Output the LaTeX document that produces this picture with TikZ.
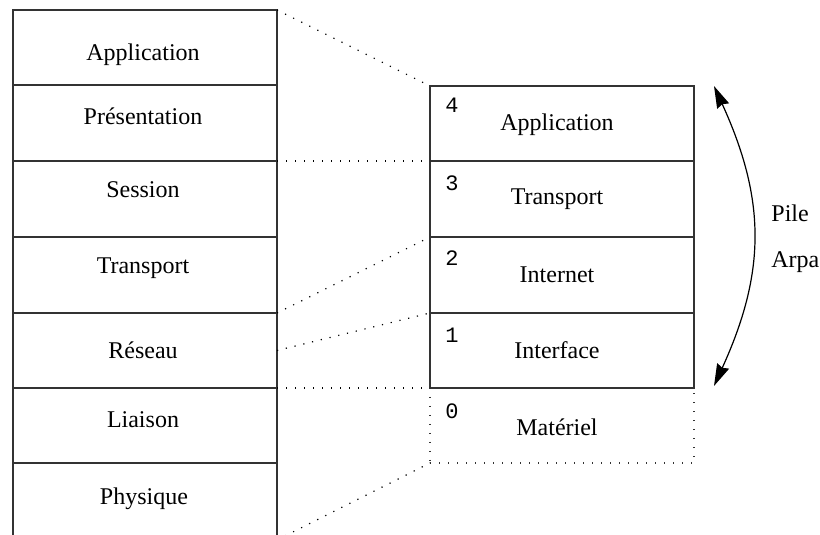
\documentclass[tikz,border=0pt]{standalone}
\usepackage{fontspec}
\setmainfont{Liberation Serif}
\newfontfamily\monof{Liberation Mono}
\usetikzlibrary{arrows.meta}
\begin{document}
\begin{tikzpicture}[x=0.5pt,y=-0.5pt,
  box/.style={draw=black!80, line width=0.7pt, minimum width=132pt, inner sep=0pt, outer sep=0pt, anchor=north west},
  dbox/.style={box, draw=black!80, dash pattern=on 0.6pt off 3.9pt},
  dotline/.style={draw=black, line width=0.6pt, dash pattern=on 0.6pt off 3.9pt},
  txt/.style={font=\fontsize{12}{14}\selectfont, inner sep=0pt},
  num/.style={font=\monof\fontsize{11}{13}\selectfont, inner sep=0pt},
  arr/.style={line width=0.6pt, {Stealth[length=11pt,width=6.5pt,inset=1pt]}-{Stealth[length=11pt,width=6.5pt,inset=1pt]}}
]
\useasboundingbox (0,0) rectangle (820,535);
% left stack (OSI)
\node[box, minimum height=37.5pt] (L1) at (13,10) {};
\node[box, minimum height=38pt] (L2) at (13,85) {};
\node[box, minimum height=38pt] (L3) at (13,161) {};
\node[box, minimum height=38pt] (L4) at (13,237) {};
\node[box, minimum height=37.5pt] (L5) at (13,313) {};
\node[box, minimum height=37.5pt] (L6) at (13,388) {};
\node[inner sep=0pt, outer sep=0pt, minimum width=132pt, minimum height=36pt, anchor=north west] (L7) at (13,463) {};
\draw[black!80, line width=0.7pt] (L7.south west) -- (L7.north west) -- (L7.north east) -- (L7.south east);
\node[txt] (tL1) at (143,55) {Application};
\node[txt] (tL2) at (143,116) {Présentation};
\node[txt] (tL3) at (143,190) {Session};
\node[txt] (tL4) at (143,268) {Transport};
\node[txt] (tL5) at (143,350) {Réseau};
\node[txt] (tL6) at (143,420) {Liaison};
\node[txt] (tL7) at (144,499) {Physique};
% right stack (Arpa)
\node[box, minimum height=37.5pt] (R4) at (430,86) {};
\node[box, minimum height=38pt] (R3) at (430,161) {};
\node[box, minimum height=38pt] (R2) at (430,237) {};
\node[box, minimum height=37.5pt] (R1) at (430,313) {};
\node[dbox, minimum height=37.5pt] (R0) at (430,388) {};
\draw[black!80, line width=0.7pt] (R1.south west) -- (R1.south east);
\node[num] (n4) at (452,105) {4};
\node[num] (n3) at (452,183) {3};
\node[num] (n2) at (452,258) {2};
\node[num] (n1) at (452,335) {1};
\node[num] (n0) at (452,411) {0};
\node[txt] (tR4) at (557,125) {Application};
\node[txt] (tR3) at (557,199) {Transport};
\node[txt] (tR2) at (557,275) {Internet};
\node[txt] (tR1) at (557,350) {Interface};
\node[txt] (tR0) at (557,427) {Matériel};
% dotted correspondences
\coordinate (Lbot) at (277,540);
\draw[dotline] (L1.north east) -- (R4.north west);
\draw[dotline] (L3.north east) -- (R3.north west);
\draw[dotline] (L5.north east) -- (R2.north west);
\draw[dotline] (L5.east) -- (R1.north west);
\draw[dotline] (L6.north east) -- (R0.north west);
\draw[dotline] (Lbot) -- (R0.south west);
% arrow
\coordinate (a1) at (714,86);
\coordinate (a2) at (714,386);
\draw[arr] (a1) .. controls (766,200) and (766,272) .. (a2);
\node[txt, anchor=west] (pile) at (771,213) {Pile};
\node[txt, anchor=west] (arpa) at (771,262) {Arpa};
\end{tikzpicture}
\end{document}
